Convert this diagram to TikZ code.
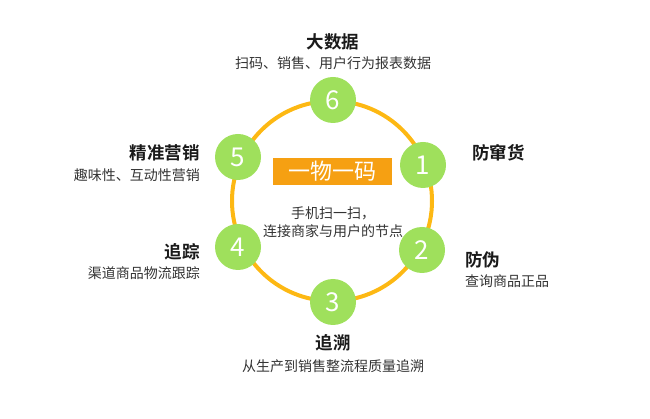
\documentclass[tikz,border=0pt]{standalone}
\usepackage{fontspec}
\setmainfont{Noto Sans CJK SC}
\newfontfamily\cjkbold{Noto Sans CJK SC Bold}
\usetikzlibrary{positioning}
\definecolor{ringOrange}{HTML}{FDB813}
\definecolor{boxOrange}{HTML}{F6A012}
\definecolor{dotGreen}{HTML}{9FE05C}
\definecolor{textDark}{HTML}{1A1A1A}
\definecolor{textSub}{HTML}{333333}
\tikzset{
  ringline/.style={draw=ringOrange, line width=4pt, circle, minimum size=200pt, inner sep=0pt},
  numdot/.style={circle, fill=dotGreen, minimum size=46pt, inner sep=0pt, text=white, font=\fontsize{26}{26}\selectfont},
  headtxt/.style={font=\cjkbold\fontsize{17.5}{20}\selectfont, text=textDark, inner sep=0pt},
  subtxt/.style={font=\fontsize{14}{16}\selectfont, text=textSub, inner sep=0pt},
  titlebox/.style={fill=boxOrange, text=white, minimum width=119pt, minimum height=27pt, inner sep=0pt, font=\fontsize{22}{22}\selectfont},
}

\begin{document}
\begin{tikzpicture}[x=1pt, y=1pt]
    \useasboundingbox (0,0) rectangle (650,-419);
    \node[ringline] (ring) at (332,-201) {};
    % numbered dots round the ring
    \node[numdot] (n6) at (333,-100) {6};
    \node[numdot] (n1) at (423,-165) {1};
    \node[numdot] (n2) at (422,-250) {2};
    \node[numdot] (n3) at (333,-302) {3};
    \node[numdot] (n4) at (238,-247) {4};
    \node[numdot] (n5) at (238,-157) {5};
    % centre
    \node[titlebox] (title) at (332.5,-171.5) {一物一码};
    \node[subtxt, align=center, font=\fontsize{14}{18}\selectfont] (scan) at (333,-222) {手机扫一扫，\\连接商家与用户的节点};
    % labels
    \node[headtxt] (h6) at (333,-42) {大数据};
    \node[subtxt] (s6) at (333,-63) {扫码、销售、用户行为报表数据};
    \node[headtxt, anchor=west] (h1) at (472,-153) {防窜货};
    \node[headtxt, anchor=west] (h2) at (465,-260) {防伪};
    \node[subtxt, anchor=west] (s2) at (465,-281) {查询商品正品};
    \node[headtxt] (h3) at (333,-343) {追溯};
    \node[subtxt] (s3) at (333,-366) {从生产到销售整流程质量追溯};
    \node[headtxt, anchor=east] (h4) at (200,-252) {追踪};
    \node[subtxt, anchor=east] (s4) at (200,-273) {渠道商品物流跟踪};
    \node[headtxt, anchor=east] (h5) at (200,-153) {精准营销};
    \node[subtxt, anchor=east] (s5) at (200,-175) {趣味性、互动性营销};
\end{tikzpicture}
\end{document}
